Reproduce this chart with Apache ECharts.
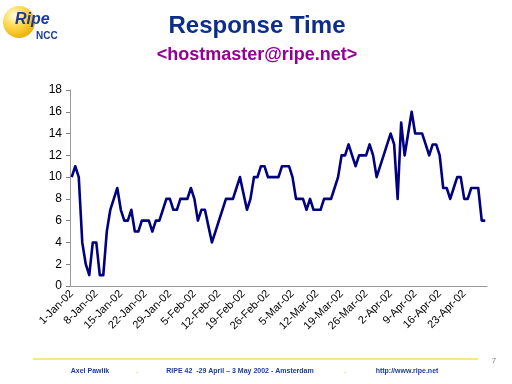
<!DOCTYPE html>
<html>
<head>
<meta charset="utf-8">
<script src="https://cdn.jsdelivr.net/npm/echarts@6/dist/echarts.min.js"></script>
<style>
html,body{margin:0;padding:0;background:#fff;}
#c{width:512px;height:384px;}
</style>
</head>
<body>
<div id="c"></div>
<script>
// Daily response time, 1-Jan-02 .. 29-Apr-02
var startYear = 2002;
var monthNames = ['Jan','Feb','Mar','Apr','May'];
var responseTime = [
  10, 11, 10, 4, 2, 1, 4, 4, 1, 1,
  5, 7, 8, 9, 7, 6, 6, 7, 5, 5,
  6, 6, 6, 5, 6, 6, 7, 8, 8, 7,
  7, 8, 8, 8, 9, 8, 6, 7, 7, 5.5,
  4, 5, 6, 7, 8, 8, 8, 9, 10, 8.5,
  7, 8, 10, 10, 11, 11, 10, 10, 10, 10,
  11, 11, 11, 10, 8, 8, 8, 7, 8, 7,
  7, 7, 8, 8, 8, 9, 10, 12, 12, 13,
  12, 11, 12, 12, 12, 13, 12, 10, 11, 12,
  13, 14, 13, 8, 15, 12, 14, 16, 14, 14,
  14, 13, 12, 13, 13, 12, 9, 9, 8, 9,
  10, 10, 8, 8, 9, 9, 9, 6, 6
];
var yTicks = [0, 2, 4, 6, 8, 10, 12, 14, 16, 18];

var categories = [];
for (var i = 0; i < responseTime.length; i++) {
  var d = new Date(Date.UTC(startYear, 0, 1 + i));
  categories.push(d.getUTCDate() + '-' + monthNames[d.getUTCMonth()] + '-02');
}

var chart = echarts.init(document.getElementById('c'), null, {renderer: 'canvas'});
var FONT = 'Liberation Sans, Arial, sans-serif';
chart.setOption({
  animation: false,
  backgroundColor: '#ffffff',
  grid: {left: 70, right: 25, top: 90, bottom: 98, containLabel: false},
  xAxis: {
    type: 'category',
    data: categories,
    boundaryGap: true,
    axisLine: {lineStyle: {color: '#999999', width: 1}},
    axisTick: {interval: 6, length: 4, lineStyle: {color: '#808080'}},
    axisLabel: {interval: 6, rotate: 45, fontFamily: FONT, fontSize: 11, color: '#000000', margin: 6}
  },
  yAxis: {
    type: 'value',
    min: yTicks[0],
    max: yTicks[yTicks.length - 1],
    interval: 2,
    axisLine: {show: true, lineStyle: {color: '#999999', width: 1}},
    axisTick: {show: true, length: 4, lineStyle: {color: '#808080'}},
    splitLine: {show: false},
    axisLabel: {fontFamily: FONT, fontSize: 12, color: '#000000', margin: 8}
  },
  series: [{
    type: 'line',
    data: responseTime,
    symbol: 'none',
    lineStyle: {color: '#000080', width: 2.6, join: 'round'}
  }],
  graphic: [
    {type: 'circle', shape: {cx: 19, cy: 22, r: 16},
     style: {fill: new echarts.graphic.RadialGradient(0.35, 0.3, 0.8, [
       {offset: 0, color: '#fffbe0'}, {offset: 0.45, color: '#ffd84a'}, {offset: 1, color: '#e8a800'}])}},
    {type: 'text', left: 15, top: 12, style: {text: 'Ripe', font: 'italic bold 16px ' + FONT, fill: '#1d3c9a'}},
    {type: 'text', left: 36, top: 31, style: {text: 'NCC', font: 'bold 10px ' + FONT, fill: '#1d3c9a'}},
    {type: 'text', x: 257, y: 38, style: {text: 'Response Time', font: 'bold 24px ' + FONT, fill: '#0c2d8a', textAlign: 'center', textVerticalAlign: 'bottom'}},
    {type: 'text', x: 257, y: 64, style: {text: '<hostmaster@ripe.net>', font: 'bold 18px ' + FONT, fill: '#960096', textAlign: 'center', textVerticalAlign: 'bottom'}},
    {type: 'line', shape: {x1: 33, y1: 359, x2: 478, y2: 359}, style: {stroke: '#f2cc1a', lineWidth: 1}},
    {type: 'text', x: 494, y: 361, style: {text: '7', font: '8px ' + FONT, fill: '#808080', textAlign: 'center', textVerticalAlign: 'middle'}},
    {type: 'text', x: 90, y: 371, style: {text: 'Axel Pawlik', font: 'bold 7px ' + FONT, fill: '#1d3c9a', textAlign: 'center', textVerticalAlign: 'middle'}},
    {type: 'text', x: 137, y: 371, style: {text: '.', font: 'bold 8px ' + FONT, fill: '#f2cc1a', textAlign: 'center', textVerticalAlign: 'middle'}},
    {type: 'text', x: 240, y: 371, style: {text: 'RIPE 42  -29 April \u2013 3 May 2002 - Amsterdam', font: 'bold 7px ' + FONT, fill: '#1d3c9a', textAlign: 'center', textVerticalAlign: 'middle'}},
    {type: 'text', x: 345, y: 371, style: {text: '.', font: 'bold 8px ' + FONT, fill: '#f2cc1a', textAlign: 'center', textVerticalAlign: 'middle'}},
    {type: 'text', x: 407, y: 371, style: {text: 'http://www.ripe.net', font: 'bold 7px ' + FONT, fill: '#1d3c9a', textAlign: 'center', textVerticalAlign: 'middle'}}
  ]
});
</script>
</body>
</html>
